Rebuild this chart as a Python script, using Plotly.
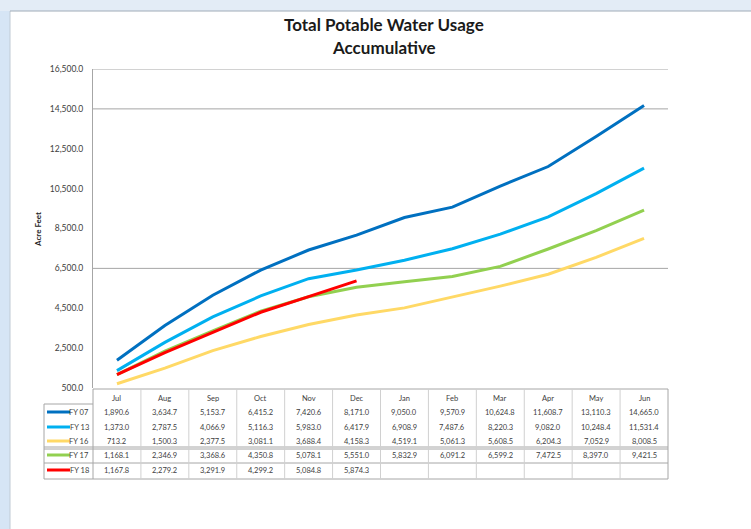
import plotly.graph_objects as go

W, H = 751, 529
PL, PR, PT, PB = 93, 668, 69, 388  # plot area in pixels

months = ["Jul", "Aug", "Sep", "Oct", "Nov", "Dec", "Jan", "Feb", "Mar", "Apr", "May", "Jun"]
fy07 = [1890.6, 3634.7, 5153.7, 6415.2, 7420.6, 8171.0, 9050.0, 9570.9, 10624.8, 11608.7, 13110.3, 14665.0]
fy13 = [1373.0, 2787.5, 4066.9, 5116.3, 5983.0, 6417.9, 6908.9, 7487.6, 8220.3, 9082.0, 10248.4, 11531.4]
fy16 = [713.2, 1500.3, 2377.5, 3081.1, 3688.4, 4158.3, 4519.1, 5061.3, 5608.5, 6204.3, 7052.9, 8008.5]
fy17 = [1168.1, 2346.9, 3368.6, 4350.8, 5078.1, 5551.0, 5832.9, 6091.2, 6599.2, 7472.5, 8397.0, 9421.5]
fy18 = [1167.8, 2279.2, 3291.9, 4299.2, 5084.8, 5874.3]
series_names = ["FY 07", "FY 13", "FY 16", "FY 17", "FY 18"]
series_values = [fy07, fy13, fy16, fy17, fy18]
series_colors = ["#0070C0", "#00B0F0", "#FFD966", "#92D050", "#FF0000"]
y_ticks = [500, 2500, 4500, 6500, 8500, 10500, 12500, 14500, 16500]
grid_levels = [6500, 14500, 16500]

FONT = "Lato"


def px_x(p):
    return (p - PL) / (PR - PL)


def px_y(p):
    return (PB - p) / (PB - PT)


fig = go.Figure()
for name, vals, col in zip(series_names, series_values, series_colors):
    fig.add_trace(go.Scatter(x=months[:len(vals)], y=vals, mode="lines", name=name,
                             line=dict(color=col, width=3), showlegend=False))

shapes = []
annotations = []

# window chrome
shapes.append(dict(type="rect", xref="paper", yref="paper", x0=px_x(0), x1=px_x(10), y0=px_y(H), y1=px_y(0),
                   fillcolor="#d6e5f5", line=dict(width=0), layer="below"))
shapes.append(dict(type="line", xref="paper", yref="paper", x0=px_x(10), x1=px_x(10), y0=px_y(H), y1=px_y(11),
                   line=dict(color="#c0cad4", width=1)))
shapes.append(dict(type="rect", xref="paper", yref="paper", x0=px_x(0), x1=px_x(W), y0=px_y(11), y1=px_y(0),
                   fillcolor="#e3ecf6", line=dict(width=0), layer="below"))
shapes.append(dict(type="line", xref="paper", yref="paper", x0=px_x(10), x1=px_x(W), y0=px_y(11), y1=px_y(11),
                   line=dict(color="#a0acb8", width=1)))

# gridlines
for g in grid_levels:
    shapes.append(dict(type="line", xref="paper", yref="y", x0=0, x1=1, y0=g, y1=g,
                       line=dict(color="#a6a6a6", width=1), layer="below"))

# data table
col_w = (PR - PL) / len(months)
row_y = [398, 412, 427, 441, 455, 470]
tbl_left, tbl_top, tbl_bottom = 44, 389, 479
line_col = "#a6a6a6"
for y0 in [tbl_top, tbl_bottom, 447, 449, 463]:
    x_start = tbl_left if y0 != tbl_top else PL
    shapes.append(dict(type="line", xref="paper", yref="paper", x0=px_x(x_start), x1=px_x(PR),
                       y0=px_y(y0), y1=px_y(y0), line=dict(color=line_col, width=1)))
shapes.append(dict(type="line", xref="paper", yref="paper", x0=px_x(tbl_left), x1=px_x(tbl_left),
                   y0=px_y(404), y1=px_y(tbl_bottom), line=dict(color=line_col, width=1)))
shapes.append(dict(type="line", xref="paper", yref="paper", x0=px_x(tbl_left), x1=px_x(PL),
                   y0=px_y(404), y1=px_y(404), line=dict(color=line_col, width=1)))
for k in range(len(months) + 1):
    xx = PL + k * col_w
    shapes.append(dict(type="line", xref="paper", yref="paper", x0=px_x(xx), x1=px_x(xx),
                       y0=px_y(tbl_top), y1=px_y(tbl_bottom),
                       line=dict(color="#d0d0d0" if 0 < k < len(months) else line_col, width=1)))

TF = dict(size=7.5, color="#404040", family=FONT)
for i, m in enumerate(months):
    annotations.append(dict(text=m, xref="x", yref="paper", x=m, y=px_y(row_y[0]), yanchor="middle",
                            showarrow=False, font=TF))
for r, (name, vals, col) in enumerate(zip(series_names, series_values, series_colors)):
    yy = px_y(row_y[r + 1])
    shapes.append(dict(type="line", xref="paper", yref="paper", x0=px_x(47), x1=px_x(70),
                       y0=yy, y1=yy, line=dict(color=col, width=3)))
    annotations.append(dict(text=name, xref="paper", yref="paper", x=px_x(91), y=yy, xanchor="right",
                            yanchor="middle", showarrow=False, font=TF))
    for m, v in zip(months, vals):
        annotations.append(dict(text=f"{v:,.1f}", xref="x", yref="paper", x=m, y=yy, yanchor="middle",
                                showarrow=False, font=TF))

# title
TT = dict(size=17, color="#1a1a1a", family=FONT)
annotations.append(dict(text="<b>Total Potable Water Usage</b>", xref="paper", yref="paper",
                        x=px_x(384), y=px_y(24), yanchor="middle", showarrow=False, font=TT))
annotations.append(dict(text="<b>Accumulative</b>", xref="paper", yref="paper",
                        x=px_x(384), y=px_y(47), yanchor="middle", showarrow=False, font=TT))
# y-axis title
annotations.append(dict(text="<b>Acre Feet</b>", xref="paper", yref="paper", x=px_x(38), y=px_y(230),
                        xanchor="center", yanchor="middle", textangle=-90, showarrow=False,
                        font=dict(size=8, color="#1a1a1a", family=FONT)))

fig.update_layout(
    width=W, height=H,
    margin=dict(l=PL, r=W - PR, t=PT, b=H - PB),
    paper_bgcolor="white", plot_bgcolor="white",
    shapes=shapes, annotations=annotations,
    xaxis=dict(type="category", categoryorder="array", categoryarray=months, range=[-0.5, 11.5],
               showticklabels=False, showgrid=False, zeroline=False, showline=False),
    yaxis=dict(range=[500, 16500], tickvals=y_ticks, tickformat=",.1f", showgrid=False, zeroline=False,
               showline=True, linecolor="#a6a6a6", linewidth=1, ticks="", ticklabelstandoff=7,
               tickfont=dict(size=8.5, color="#404040", family=FONT)),
)

fig.write_html("out.html", config={"displayModeBar": False},
               post_script="document.body.style.margin='0';")
